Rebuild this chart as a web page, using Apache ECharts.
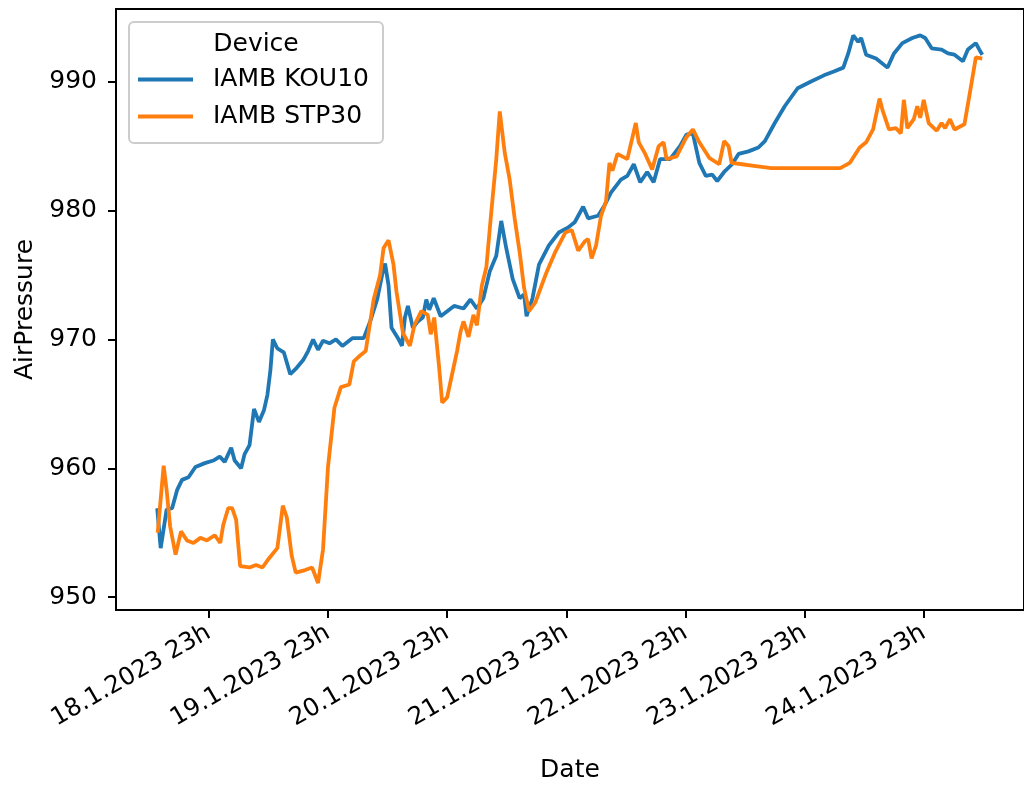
<!DOCTYPE html>
<html>
<head>
<meta charset="utf-8">
<script src="https://cdn.jsdelivr.net/npm/echarts@6/dist/echarts.min.js"></script>
<style>
  html, body { margin: 0; padding: 0; background: #fff; }
  #chart { width: 1024px; height: 788px; }
</style>
</head>
<body>
<div id="chart"></div>
<script>
// hours relative to 18.1.2023 23h
const xTicks = [0, 24, 48, 72, 96, 120, 144]
const xTickLabels = ['18.1.2023 23h', '19.1.2023 23h', '20.1.2023 23h', '21.1.2023 23h',
  '22.1.2023 23h', '23.1.2023 23h', '24.1.2023 23h']
const yTicks = [950, 960, 970, 980, 990]
const seriesNames = ['IAMB KOU10', 'IAMB STP30']

const kouHours = [-10.4, -9.7, -8.5, -7.4, -6.4, -5.4, -4.1, -2.7, -0.8, 0.9, 2.2, 3.2, 4.5, 5.2, 6.5, 7.2, 8.2,
  9.1, 10.1, 11.1, 11.8, 12.4, 12.9, 13.8, 15.1, 16.4, 17.7, 19.0, 20.0, 21.0, 22.0, 23.0, 24.3, 25.6, 26.9,
  28.9, 31.2, 32.5, 33.9, 34.9, 35.5, 36.2, 36.8, 38.1, 38.9, 39.5, 40.1, 41.1, 42.1, 43.1, 43.8, 44.4, 45.3,
  46.7, 49.4, 51.3, 52.7, 54.0, 55.3, 56.6, 57.9, 58.9, 59.9, 61.2, 62.6, 63.5, 64.0, 65.2, 66.5, 68.5, 70.5,
  72.4, 73.7, 75.4, 76.4, 78.4, 79.7, 81.0, 83.0, 84.3, 85.6, 86.9, 88.3, 89.6, 90.9, 92.9, 94.9, 96.2, 97.5,
  98.8, 100.1, 101.4, 102.4, 103.8, 105.4, 106.7, 108.7, 110.7, 112.0, 114.0, 116.0, 118.6, 121.2, 123.9,
  125.9, 127.8, 128.8, 129.8, 130.8, 131.4, 132.4, 134.4, 136.7, 138.0, 139.7, 141.7, 143.3, 144.3, 145.6,
  147.6, 148.9, 150.2, 151.9, 152.9, 154.5, 155.2, 155.8]
const kouValues = [956.9, 953.8, 956.8, 956.9, 958.3, 959.1, 959.3, 960.1, 960.4, 960.6, 960.9, 960.5, 961.6,
  960.6, 960.0, 961.1, 961.8, 964.6, 963.6, 964.5, 965.7, 967.6, 970.0, 969.3, 969.0, 967.3, 967.8, 968.4,
  969.1, 970.0, 969.2, 969.9, 969.7, 970.0, 969.5, 970.1, 970.1, 971.4, 973.1, 975.0, 975.9, 974.2, 970.9,
  970.1, 969.5, 971.7, 972.6, 970.9, 971.4, 971.7, 973.1, 972.3, 973.2, 971.8, 972.6, 972.4, 973.1, 972.4,
  973.2, 975.3, 976.5, 979.2, 977.1, 974.7, 973.2, 973.5, 971.8, 973.2, 975.8, 977.3, 978.3, 978.7, 979.1,
  980.3, 979.4, 979.6, 980.4, 981.4, 982.4, 982.7, 983.6, 982.2, 983.0, 982.2, 984.0, 984.0, 985.0, 985.9,
  986.0, 983.7, 982.7, 982.8, 982.3, 983.0, 983.6, 984.4, 984.6, 984.9, 985.4, 986.8, 988.1, 989.5, 990.0,
  990.5, 990.8, 991.1, 992.2, 993.6, 993.1, 993.4, 992.1, 991.8, 991.1, 992.2, 993.0, 993.4, 993.6, 993.4,
  992.6, 992.5, 992.2, 992.1, 991.6, 992.5, 993.0, 992.5, 992.1]

const stpHours = [-10.3, -9.1, -8.5, -7.8, -6.7, -5.6, -4.4, -3.1, -1.7, -0.4, 1.2, 2.3, 2.9, 3.9, 4.7, 5.5,
  6.3, 8.2, 9.5, 10.8, 12.1, 13.8, 14.9, 15.7, 16.7, 17.5, 19.4, 20.8, 22.0, 23.0, 24.0, 25.3, 26.6, 28.3,
  29.2, 30.6, 31.6, 33.2, 34.5, 35.2, 36.2, 37.2, 37.8, 39.1, 40.5, 41.4, 42.8, 44.1, 44.7, 45.4, 46.4, 47.0,
  48.0, 49.0, 50.0, 50.7, 51.3, 52.3, 53.3, 54.0, 55.0, 55.9, 56.8, 57.9, 58.6, 59.6, 60.6, 61.6, 62.6, 63.5,
  64.5, 65.8, 67.8, 69.8, 71.8, 73.1, 74.4, 75.7, 76.4, 77.1, 78.0, 79.0, 80.0, 80.7, 81.3, 82.3, 84.3, 86.0,
  86.6, 87.9, 89.3, 90.6, 91.6, 92.2, 94.2, 96.2, 97.5, 98.8, 100.8, 102.8, 103.8, 104.7, 105.3, 107.4, 109.4,
  113.3, 119.9, 127.2, 129.1, 131.1, 132.4, 133.8, 135.1, 135.7, 137.0, 138.4, 139.4, 140.0, 140.7, 142.0,
  142.7, 143.3, 144.0, 145.0, 146.6, 147.6, 148.3, 149.3, 150.2, 152.2, 153.5, 154.5, 155.8]
const stpValues = [955.0, 960.2, 958.3, 955.5, 953.3, 955.1, 954.4, 954.2, 954.6, 954.4, 954.8, 954.2, 955.6,
  956.9, 956.9, 956.0, 952.4, 952.3, 952.5, 952.3, 953.0, 953.8, 957.1, 956.2, 953.2, 951.9, 952.1, 952.3,
  951.1, 953.7, 960.1, 964.7, 966.3, 966.5, 968.3, 968.8, 969.1, 973.1, 975.0, 977.1, 977.7, 975.8, 973.7,
  970.5, 969.5, 971.1, 972.2, 971.9, 970.4, 971.7, 967.8, 965.1, 965.5, 967.3, 969.1, 970.6, 971.4, 970.2,
  971.9, 971.1, 974.2, 975.6, 979.5, 984.0, 987.7, 984.5, 982.4, 979.4, 976.8, 974.0, 972.2, 972.9, 975.0,
  976.8, 978.3, 978.5, 976.9, 977.6, 977.8, 976.3, 977.3, 979.6, 980.7, 983.7, 983.1, 984.4, 984.0, 986.8,
  985.3, 984.4, 983.2, 985.0, 985.3, 984.0, 984.2, 985.7, 986.3, 985.3, 984.1, 983.6, 985.4, 985.0, 983.7,
  983.6, 983.5, 983.3, 983.3, 983.3, 983.7, 984.9, 985.3, 986.3, 988.7, 987.8, 986.3, 986.4, 986.0, 988.6,
  986.4, 987.1, 988.1, 987.2, 988.6, 986.8, 986.2, 986.8, 986.4, 987.1, 986.3, 986.7, 989.6, 991.9, 991.8]

const font = 'DejaVu Sans'
const fs = 25
const chart = echarts.init(document.getElementById('chart'))

chart.setOption({
  animation: false,
  textStyle: { fontFamily: font },
  grid: {
    left: 116, right: -17, top: 9, bottom: 174,
    show: true, borderColor: '#000', borderWidth: 2, backgroundColor: '#fff'
  },
  graphic: [
    {
      type: 'rect',
      shape: { x: 129, y: 22, width: 254, height: 121, r: 5 },
      style: { fill: 'rgba(255,255,255,0.8)', stroke: '#cccccc', lineWidth: 2 },
      z: 50
    },
    {
      type: 'text',
      x: 256, y: 44,
      style: { text: 'Device', fontSize: fs, fontFamily: font, fill: '#000', align: 'center', verticalAlign: 'middle' },
      z: 51
    }
  ],
  legend: {
    orient: 'vertical',
    left: 138, top: 67,
    padding: 0,
    itemGap: 12,
    itemWidth: 55,
    itemHeight: 3.8,
    icon: 'rect',
    z: 60,
    data: seriesNames,
    textStyle: { fontSize: fs, fontFamily: font, color: '#000', lineHeight: 25, padding: [0, 0, 0, 15] }
  },
  xAxis: {
    type: 'value',
    min: -18.7,
    max: 164.2,
    name: 'Date',
    nameLocation: 'middle',
    nameGap: 148,
    nameTextStyle: { fontSize: fs, color: '#000', fontFamily: font },
    axisLine: { show: true, onZero: false, lineStyle: { color: '#000', width: 2 } },
    axisTick: { show: true, customValues: xTicks, length: 8, lineStyle: { color: '#000', width: 2 } },
    axisLabel: {
      customValues: xTicks,
      rotate: 30,
      margin: 21,
      fontSize: 24.5,
      color: '#000',
      fontFamily: font,
      formatter: v => xTickLabels[xTicks.indexOf(v)] || ''
    },
    splitLine: { show: false }
  },
  yAxis: {
    type: 'value',
    min: 949.0,
    max: 995.65,
    name: 'AirPressure',
    nameLocation: 'middle',
    nameGap: 76,
    nameRotate: 90,
    nameTextStyle: { fontSize: fs, color: '#000', fontFamily: font },
    axisLine: { show: true, onZero: false, lineStyle: { color: '#000', width: 2 } },
    axisTick: { show: true, customValues: yTicks, length: 8, lineStyle: { color: '#000', width: 2 } },
    axisLabel: { customValues: yTicks, margin: 19, fontSize: fs, color: '#000', fontFamily: font },
    splitLine: { show: false }
  },
  series: [
    {
      name: seriesNames[0],
      type: 'line',
      showSymbol: false,
      color: '#1f77b4',
      lineStyle: { width: 3.8, color: '#1f77b4' },
      data: kouHours.map((h, i) => [h, kouValues[i]])
    },
    {
      name: seriesNames[1],
      type: 'line',
      showSymbol: false,
      color: '#ff7f0e',
      lineStyle: { width: 3.8, color: '#ff7f0e' },
      data: stpHours.map((h, i) => [h, stpValues[i]])
    }
  ]
})
</script>
</body>
</html>
